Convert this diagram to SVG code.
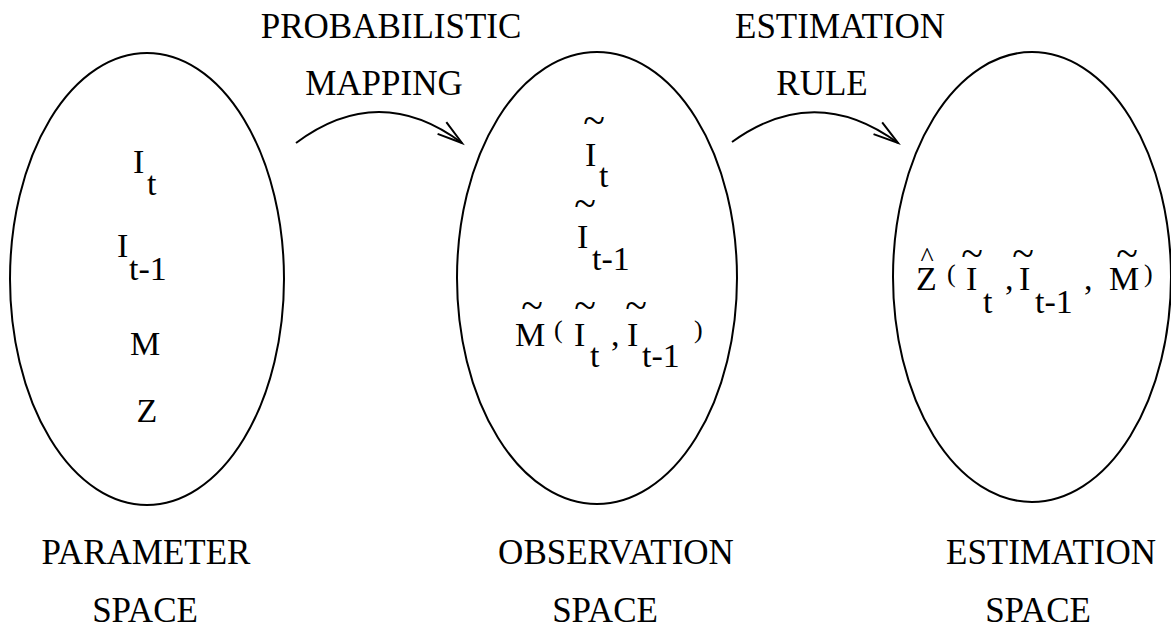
<svg xmlns="http://www.w3.org/2000/svg" width="1171" height="630" viewBox="0 0 1171 630">
<defs>
<style>
text{font-family:"Liberation Serif","Times New Roman",serif;fill:#000}
.lbl{font-size:35px;text-anchor:middle}
.m{font-size:34px}
.p{font-size:26px}
.tl{font-size:40px;text-anchor:middle}
.hat{font-size:28px;text-anchor:middle}
.sp{fill:none;stroke:#000;stroke-width:2}
</style>
<marker id="ah" markerUnits="userSpaceOnUse" markerWidth="40" markerHeight="40" viewBox="-30 -20 40 40" refX="0" refY="0" orient="auto">
<path d="M-25,-7.3 L0,0 L-25,7.3" fill="none" stroke="#000" stroke-width="2"/>
</marker>
</defs>
<rect width="1171" height="630" fill="#fff"/>
<g id="parameter-space">
<ellipse class="sp" cx="147" cy="279" rx="137" ry="226"/>
<text class="m" x="133" y="173">I</text><text class="m" x="147" y="195">t</text>
<text class="m" x="117" y="257">I</text><text class="m" x="129" y="280">t-1</text>
<text class="m" x="145" y="355" text-anchor="middle">M</text>
<text class="m" x="147" y="422" text-anchor="middle">Z</text>
<text class="lbl" x="146" y="564">PARAMETER</text>
<text class="lbl" x="145" y="622">SPACE</text>
</g>
<g id="observation-space">
<ellipse class="sp" cx="597" cy="278" rx="140" ry="226"/>
<text class="tl" x="594" y="134">~</text>
<text class="m" x="585" y="166">I</text><text class="m" x="599" y="187">t</text>
<text class="tl" x="585" y="217">~</text>
<text class="m" x="577" y="248">I</text><text class="m" x="592" y="270">t-1</text>
<text class="tl" x="532" y="319">~</text>
<text class="m" x="515" y="346">M</text>
<text class="p" x="554" y="338">(</text>
<text class="tl" x="585" y="319">~</text>
<text class="m" x="574" y="346">I</text><text class="m" x="590" y="367">t</text>
<text class="m" x="611" y="346">,</text>
<text class="tl" x="636" y="319">~</text>
<text class="m" x="627" y="346">I</text><text class="m" x="642" y="367">t-1</text>
<text class="p" x="694" y="338">)</text>
<text class="lbl" x="616" y="564">OBSERVATION</text>
<text class="lbl" x="605" y="622">SPACE</text>
</g>
<g id="estimation-space">
<ellipse class="sp" cx="1032" cy="277" rx="139" ry="225"/>
<text class="hat" x="927" y="266">^</text>
<text class="m" x="916" y="290">Z</text>
<text class="p" x="947" y="282">(</text>
<text class="tl" x="972" y="267">~</text>
<text class="m" x="966" y="290">I</text><text class="m" x="983" y="313">t</text>
<text class="m" x="1005" y="290">,</text>
<text class="tl" x="1023" y="267">~</text>
<text class="m" x="1019" y="290">I</text><text class="m" x="1035" y="313">t-1</text>
<text class="m" x="1084" y="290">,</text>
<text class="tl" x="1127" y="267">~</text>
<text class="m" x="1109" y="290">M</text>
<text class="p" x="1144" y="282">)</text>
<text class="lbl" x="1051" y="564">ESTIMATION</text>
<text class="lbl" x="1038" y="622">SPACE</text>
</g>
<g id="connectors">
<path class="sp" d="M296,143 Q379,81 462,143" marker-end="url(#ah)"/>
<path class="sp" d="M732,142 Q815,82 898,143" marker-end="url(#ah)"/>
<text class="lbl" x="391" y="38">PROBABILISTIC</text>
<text class="lbl" x="384" y="95">MAPPING</text>
<text class="lbl" x="840" y="38">ESTIMATION</text>
<text class="lbl" x="822" y="95">RULE</text>
</g>
</svg>
